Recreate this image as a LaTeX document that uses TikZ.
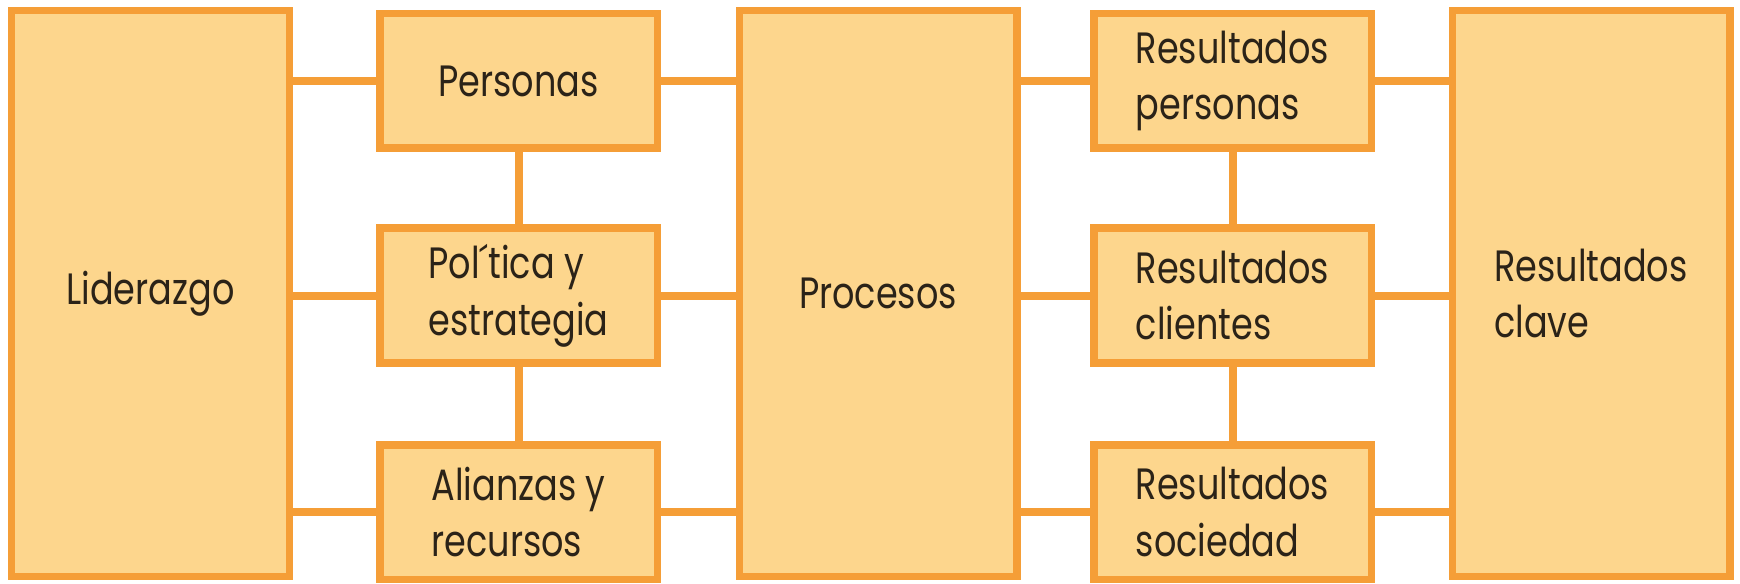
\documentclass[tikz,border=0pt]{standalone}
\usepackage{fontspec}
\setmainfont{Poppins}[FakeStretch=0.8]
\usetikzlibrary{backgrounds}
\definecolor{boxfill}{HTML}{FDD68D}
\definecolor{boxline}{HTML}{F59E37}
\definecolor{ink}{HTML}{2B2318}
\tikzset{
  panel/.style={draw=boxline, fill=boxfill, line width=7.5bp, rectangle,
    inner sep=0pt, text=ink, align=left,
    font=\fontsize{44}{57}\selectfont},
  tallbox/.style={panel, minimum width=277.5bp, minimum height=565.5bp},
  smallbox/.style={panel, minimum width=277.5bp, minimum height=134.5bp},
  link/.style={draw=boxline, line width=8bp}
}
\begin{document}
\begin{tikzpicture}[x=1bp, y=-1bp]
  \useasboundingbox (0,0) rectangle (1740,584);
  % tall columns
  \node[tallbox] (lid)  at (150.5,293.5) {Liderazgo};
  \node[tallbox] (proc) at (878,293.5)   {Procesos};
  \node[tallbox] (clave) at (1591,293.5) {Resultados\\clave};
  % enabler column
  \node[smallbox] (pers) at (518.5,81)  {Personas};
  \node[smallbox] (pol)  at (518.5,295.5) {Pol´tica y\\estrategia};
  \node[smallbox] (ali)  at (518.5,512) {Alianzas y\\recursos};
  % results column
  \node[smallbox] (rpers) at (1232.5,81)  {Resultados\\personas};
  \node[smallbox] (rcli)  at (1232.5,295.5) {Resultados\\clientes};
  \node[smallbox] (rsoc)  at (1232.5,512) {Resultados\\sociedad};
  % connectors behind the boxes
  \begin{scope}[on background layer]
    \foreach \n in {pers,pol,ali} {
      \draw[link] (\n.center) -- (\n.center -| lid.center);
      \draw[link] (\n.center) -- (\n.center -| proc.center);
    }
    \foreach \n in {rpers,rcli,rsoc} {
      \draw[link] (\n.center) -- (\n.center -| proc.center);
      \draw[link] (\n.center) -- (\n.center -| clave.center);
    }
    \draw[link] (pers.center) -- (pol.center) -- (ali.center);
    \draw[link] (rpers.center) -- (rcli.center) -- (rsoc.center);
  \end{scope}
\end{tikzpicture}
\end{document}
